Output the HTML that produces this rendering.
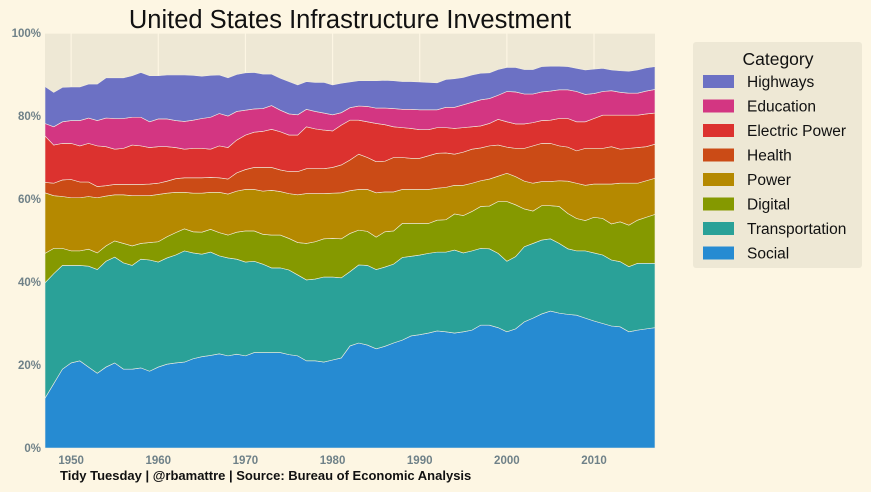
<!DOCTYPE html>
<html><head><meta charset="utf-8">
<style>
body{margin:0;background:#fdf6e3;font-family:"Liberation Sans",sans-serif;}
svg{display:block}
</style></head>
<body>
<svg id="chart" width="871" height="492" viewBox="0 0 871 492" xmlns="http://www.w3.org/2000/svg">
<rect width="871" height="492" fill="#fdf6e3"/>
<text x="350" y="28" text-anchor="middle" font-size="25.5" fill="#111" font-family="Liberation Sans, sans-serif">United States Infrastructure Investment</text>
<rect x="45" y="33" width="610" height="415" fill="#eee8d5"/>
<g id="grid"></g>
<g id="areas"></g>
<g id="axes"></g>
<g>
<rect x="693" y="42" width="169" height="226" rx="3" fill="#eee8d5"/>
<text x="778" y="65" text-anchor="middle" font-size="17.5" fill="#111">Category</text>
<g id="legend-items"></g>
</g>
<text x="60" y="480" font-size="13" font-weight="bold" fill="#111">Tidy Tuesday | @rbamattre | Source: Bureau of Economic Analysis</text>
</svg>
<script>
const years = []; for (let y = 1947; y <= 2017; y++) years.push(y);
const seriesNames = ["Social","Transportation","Digital","Power","Health","Electric Power","Education","Highways"];
const seriesColors = ["#268bd2","#2aa198","#859900","#b58900","#cb4b16","#dc322f","#d33682","#6c71c4"];
// cumulative stack tops (%)
const cumSocial = [12,15.5,19,20.5,21,19.5,18,19.5,20.5,19,19,19.3,18.5,19.5,20.2,20.5,20.7,21.5,22,22.3,22.7,22.2,22.6,22.2,23,23,23,23,22.5,22.2,21,21,20.7,21.2,21.7,24.6,25.3,24.8,23.9,24.5,25.3,26,27,27.3,27.7,28.2,28,27.7,28,28.4,29.6,29.6,29,28,28.7,30.4,31.3,32.3,33,32.5,32.2,32,31.3,30.6,30,29.4,29.2,28,28.4,28.7,29];
const cumTransportation = [39.8,42,44,44,44,43.8,43,45,46,44.6,44,45.5,45.3,44.8,45.8,46.5,47.5,47,46.7,47.2,46.3,45.8,45.5,44.8,45,44.3,43.4,43.4,42.9,41.7,40.5,40.7,41.2,41.2,41,42.5,44.1,44,43,43.6,44.3,45.9,46.2,46.5,46.9,47.2,47.2,47.7,47,47.5,48.1,48,46.9,45,46.1,48.5,49.3,50.1,50.4,49.3,48,47.5,47.5,47,46.5,45.3,44.9,43.7,44.5,44.5,44.5];
const cumDigital = [46.9,48.1,48.1,47.5,47.5,47.9,47,48.7,49.9,49.3,48.7,49.3,49.5,49.7,50.9,51.9,52.8,52.1,52,52.7,51.9,51.3,52,52.3,52.3,51.5,51.3,51.3,50.5,49.5,49.3,49.7,50.4,50.5,50.4,51.7,52.5,52.2,50.8,52.1,52.3,54.1,54.1,54.1,54.1,54.9,55,56.4,56,57,58.2,58.3,59.4,59.4,58.6,57.6,57.1,58.4,58.4,58.2,56.5,55.3,54.8,55.6,55.3,54,54.5,53.7,54.9,55.6,56.3];
const cumPower = [61.5,60.8,60.6,60.3,60.3,60.6,60.3,60.7,61,61,60.8,60.8,60.8,61.1,61.4,61.6,61.6,61.4,61.4,61.6,61.6,61.2,61.9,62.3,62.3,61.9,62.1,61.8,61.3,61,61.3,61.3,61.3,61.4,61.5,62,62.3,62.3,61.5,61.7,61.7,62.3,62.3,62.3,62.3,62.6,62.8,63.3,63.3,63.8,64.4,64.8,65.5,66.2,65.4,64.3,63.8,64.2,64.2,64.4,64.3,63.8,63.3,63.6,63.6,63.6,63.8,63.8,63.8,64.4,65];
const cumHealth = [64,63.8,64.6,64.7,64.1,64.1,63,63.2,63.5,63.5,63.5,63.5,63.6,63.8,64.3,64.9,65.1,65.1,65.1,65.2,65.1,64.8,66.3,67.1,67.6,67.6,67.6,67,66.6,66.6,67.3,67.3,67.3,67.6,68.2,69.4,70.8,70,69,69.1,70,70,69.8,69.8,70.4,71,71.1,70.8,71.3,72,72.3,72.8,73,72.5,72.2,72.2,72.8,73.4,73.4,72.8,72.5,71.6,72.2,72.2,72.2,72.6,72,72.2,72.4,72.6,73.2];
const cumElectric = [75.2,73,73.4,73.4,72.8,73.4,72.8,72.6,72,72.2,73,72.8,72.4,72.6,72.6,72.4,72,72.2,72.2,72,72.8,72.4,74.2,75.4,76.1,76.3,76.8,76.2,75.4,75.4,77.4,76.9,76.6,76.4,77.8,79,79,78.6,78.2,77.9,77.4,77.2,77,76.7,76.7,77.2,77.2,77,77.2,77.4,77.6,78.2,79.2,78.6,78.1,78.1,78.4,78.9,79,79.4,79.4,78.6,78.6,79.4,80.2,80.2,80.2,80.2,80.2,80.5,80.7];
const cumEducation = [78.2,77.4,78.6,78.9,78.9,79.5,78.9,79.5,79.4,79.4,79.7,79.7,78.6,79.3,79.3,78.9,78.7,79,79.4,79.7,80.6,80,81.1,81.4,81.7,81.8,82.5,81.4,80.5,80.3,81.6,81.1,80.7,80.3,80.8,82,82.4,82.3,81.9,81.9,81.8,81.6,81.6,81.5,81.5,81.5,82.1,82.1,82.7,83.3,83.9,84.2,85,85.9,85.8,85.3,85.3,85.8,86,86.3,86.3,85.9,85.2,85.4,85.9,86.1,85.7,85.5,85.5,86,86.4];
const cumHighways = [87.1,85.7,86.9,87,87,87.7,87.7,89.2,89.2,89.2,89.7,90.5,89.7,89.7,89.9,89.9,89.9,89.8,89.6,89.8,89.9,89.2,90,90.4,90.5,90.1,90.1,89.1,88.3,87.5,88.3,88.1,88.1,87.5,87.9,88.2,88.5,88.5,88.5,88.6,88.5,88.3,88.3,88.2,88.1,88,88.8,89,89.3,89.9,90.3,90.4,91.2,91.7,91.7,91.2,91.2,91.9,92,92,91.9,91.5,91.1,91.3,91.5,91.1,90.9,90.8,91.1,91.6,91.9];
const xTicks = [1950,1960,1970,1980,1990,2000,2010];
const yTicks = [0,20,40,60,80,100];
const yTickLabels = ["0%","20%","40%","60%","80%","100%"];

const NS = "http://www.w3.org/2000/svg";
const X0 = 45, X1 = 655, Y0 = 448, Y1 = 33;
const xMin = 1947, xMax = 2017;
const xs = v => X0 + (v - xMin) / (xMax - xMin) * (X1 - X0);
const ys = v => Y0 - v / 100 * (Y0 - Y1);
function mk(tag, attrs, parent){ const e=document.createElementNS(NS,tag); for(const k in attrs) e.setAttribute(k,attrs[k]); parent.appendChild(e); return e; }

const grid = document.getElementById('grid');
for (let i = 0; i < yTicks.length; i++) {
  const l = mk('line',{x1:X0,x2:X1,y1:ys(yTicks[i]),y2:ys(yTicks[i]),stroke:'#fdf6e3','stroke-width':1.2},grid);
  
  
}
for (let i = 0; i < xTicks.length; i++) {
  const l = mk('line',{x1:xs(xTicks[i]),x2:xs(xTicks[i]),y1:Y1,y2:Y0,stroke:'#fdf6e3','stroke-width':1.2},grid);
  
  
}

const tops = [cumSocial,cumTransportation,cumDigital,cumPower,cumHealth,cumElectric,cumEducation,cumHighways];
const areas = document.getElementById('areas');
for (let s = 0; s < tops.length; s++) {
  const top = tops[s];
  const bot = s === 0 ? years.map(()=>0) : tops[s-1];
  let d = '';
  years.forEach((y,i)=>{ d += (i?'L':'M') + xs(y).toFixed(2) + ',' + ys(top[i]).toFixed(2); });
  for (let i = years.length-1; i >= 0; i--) d += 'L' + xs(years[i]).toFixed(2) + ',' + ys(bot[i]).toFixed(2);
  d += 'Z';
  const p = mk('path',{d:d,fill:seriesColors[s],stroke:'#f2eee0','stroke-width':0.6},areas);
  
  
}

const axes = document.getElementById('axes');
for (let i = 0; i < yTicks.length; i++) {
  const t = mk('text',{x:X0-4,y:ys(yTicks[i])+4,'text-anchor':'end','font-size':11.5,'font-weight':'bold',fill:'#6f8188'},axes);
  t.textContent = yTickLabels[i];
  
  
}
for (let i = 0; i < xTicks.length; i++) {
  const t = mk('text',{x:xs(xTicks[i]),y:Y0+16,'text-anchor':'middle','font-size':11.5,'font-weight':'bold',fill:'#6f8188'},axes);
  t.textContent = xTicks[i];
  
  
}

const leg = document.getElementById('legend-items');
const legendOrder = [7,6,5,4,3,2,1,0];
legendOrder.forEach((s,k)=>{
  const y = 82 + k*24.5;
  const g = mk('g',{},leg);
  
  
  mk('rect',{x:703,y:y-7,width:31,height:13,fill:seriesColors[s]},g);
  const t = mk('text',{x:747,y:y+5,'font-size':15.5,fill:'#111'},g);
  t.textContent = seriesNames[s];
});
</script>
</body></html>
